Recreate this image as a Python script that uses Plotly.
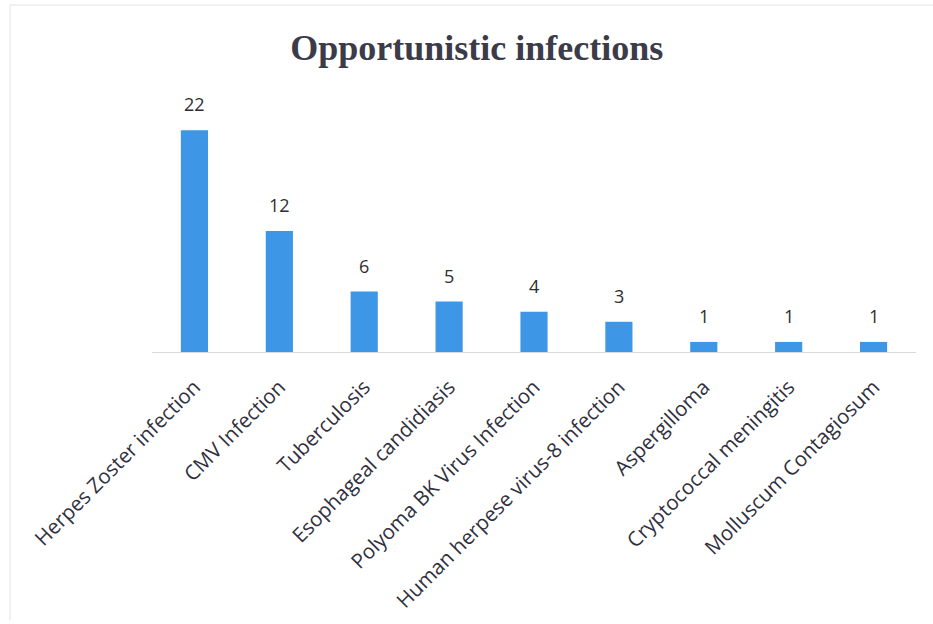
import plotly.graph_objects as go

categories = ["Herpes Zoster infection", "CMV Infection", "Tuberculosis",
              "Esophageal candidiasis", "Polyoma BK Virus Infection",
              "Human herpese virus-8 infection", "Aspergilloma",
              "Cryptococcal meningitis", "Molluscum Contagiosum"]
counts = [22, 12, 6, 5, 4, 3, 1, 1, 1]

W, H = 933, 624
ml, mr, mt, mb = 152, 17, 100, 272

fig = go.Figure(go.Bar(
    x=categories, y=counts,
    marker=dict(color="#3d96e6", line=dict(width=0)),
    hoverinfo="x+y",
))

for c, v in zip(categories, counts):
    fig.add_annotation(x=c, y=v, text=str(v), showarrow=False, yanchor="bottom", yshift=12,
                       font=dict(family="Open Sans, Liberation Sans, sans-serif", size=18, color="#2e2e2e"))

pw = W - ml - mr
ph = H - mt - mb
def px_x(x): return (x - ml) / pw
def px_y(y): return (H - mb - y) / ph

fig.update_layout(
    width=W, height=H,
    margin=dict(l=ml, r=mr, t=mt, b=mb, autoexpand=False),
    paper_bgcolor="white", plot_bgcolor="white",
    bargap=0.68,
    showlegend=False,
    title=dict(text="<b>Opportunistic infections</b>", x=0.511, xanchor="center",
               y=1 - 47 / H, yanchor="middle",
               font=dict(family="Liberation Serif, Times New Roman, serif", size=36, color="#3b3b4a")),
    xaxis=dict(tickangle=-45, showgrid=False, showline=True, linecolor="#d9d9d9", linewidth=1,
               ticks="", ticklabelstandoff=14, automargin=False,
               tickfont=dict(family="Open Sans, Liberation Sans, sans-serif", size=20.5, color="#30303e")),
    yaxis=dict(range=[0, 25], visible=False, showgrid=False, zeroline=False, automargin=False),
    shapes=[
        dict(type="line", xref="paper", yref="paper", x0=px_x(10), x1=px_x(10), y0=px_y(5), y1=px_y(620),
             line=dict(color="#ececec", width=1.5)),
        dict(type="line", xref="paper", yref="paper", x0=px_x(10), x1=px_x(933), y0=px_y(5), y1=px_y(5),
             line=dict(color="#ececec", width=1.5)),
    ],
)

fig.write_html("out.html")
